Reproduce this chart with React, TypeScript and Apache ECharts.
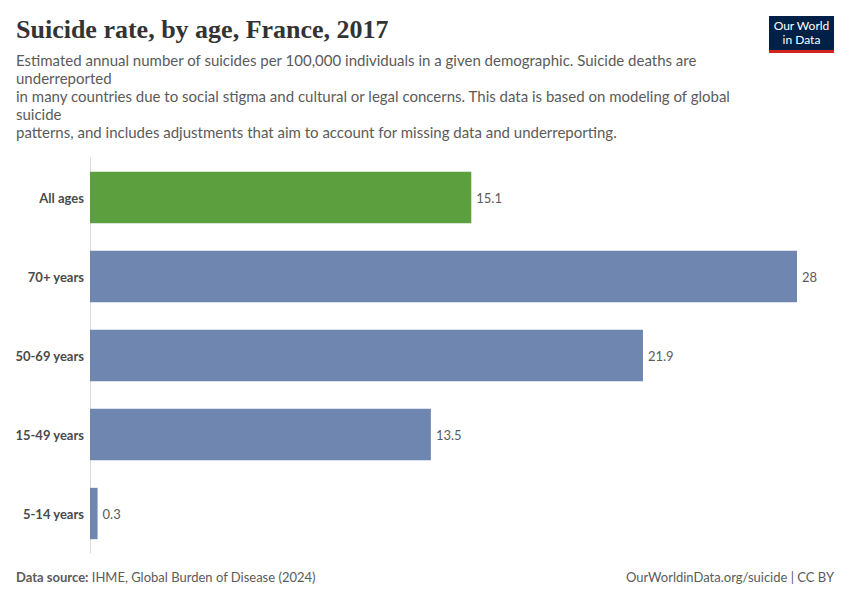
import React, { useEffect, useRef } from "react";
import * as echarts from "echarts";

const categories = ["All ages", "70+ years", "50-69 years", "15-49 years", "5-14 years"];
const values = [15.1, 28, 21.9, 13.5, 0.3];
const barColors = ["#5b9f3e", "#6f87b0", "#6f87b0", "#6f87b0", "#6f87b0"];
const subtitleLines = [
  "Estimated annual number of suicides per 100,000 individuals in a given demographic. Suicide deaths are",
  "underreported",
  "in many countries due to social stigma and cultural or legal concerns. This data is based on modeling of global",
  "suicide",
  "patterns, and includes adjustments that aim to account for missing data and underreporting.",
];

export default function App() {
  const ref = useRef<HTMLDivElement>(null);
  useEffect(() => {
    if (!ref.current) return;
    const chart = echarts.init(ref.current, null, { renderer: "svg" });
    const font = "Lato, 'Noto Sans', sans-serif";
    const subtitleGraphics = subtitleLines.map((t, i) => ({
      type: "text",
      left: 16,
      top: 52 + i * 18.2,
      style: { text: t, fill: "#5b5b5b", font: `15px ${font}` },
    }));
    chart.setOption({
      animation: false,
      backgroundColor: "#ffffff",
      grid: { left: 90, top: 158, width: 707, height: 395, containLabel: false },
      xAxis: {
        type: "value",
        min: 0,
        max: 28,
        show: false,
      },
      yAxis: {
        type: "category",
        data: categories,
        inverse: true,
        axisLine: { show: true, lineStyle: { color: "#dadada", width: 1 } },
        axisTick: { show: false },
        axisLabel: { color: "#4a4a4a", fontSize: 13, fontFamily: font, fontWeight: "bold", margin: 6 },
      },
      series: [
        {
          type: "bar",
          data: values.map((v, i) => ({ value: v, itemStyle: { color: barColors[i] } })),
          barCategoryGap: "35%",
          label: {
            show: true,
            position: "right",
            distance: 5,
            color: "#5b5b5b",
            fontSize: 13,
            fontFamily: font,
            formatter: (p: any) => String(p.value),
          },
        },
      ],
      graphic: [
        {
          type: "text",
          left: 16,
          top: 16,
          style: {
            text: "Suicide rate, by age, France, 2017",
            fill: "#333333",
            font: "bold 26px 'Liberation Serif', 'DejaVu Serif', serif",
          },
        },
        ...subtitleGraphics,
        {
          type: "group",
          left: 769,
          top: 16,
          children: [
            { type: "rect", shape: { x: 0, y: 0, width: 65, height: 34 }, style: { fill: "#002147" } },
            { type: "rect", shape: { x: 0, y: 34, width: 65, height: 3 }, style: { fill: "#ce261e" } },
            {
              type: "text",
              x: 32.5,
              y: 3.5,
              style: { text: "Our World", fill: "#ffffff", font: `12px ${font}`, textAlign: "center" },
            },
            {
              type: "text",
              x: 32.5,
              y: 17.5,
              style: { text: "in Data", fill: "#ffffff", font: `12px ${font}`, textAlign: "center" },
            },
          ],
        },
        {
          type: "text",
          left: 16,
          top: 570,
          style: {
            text: "{b|Data source:} IHME, Global Burden of Disease (2024)",
            rich: {
              b: { fontWeight: "bold", fill: "#5b5b5b", fontSize: 13, fontFamily: font },
            },
            fill: "#5b5b5b",
            font: `13px ${font}`,
          },
        },
        {
          type: "text",
          right: 16,
          top: 570,
          style: {
            text: "OurWorldinData.org/suicide | CC BY",
            fill: "#5b5b5b",
            font: `13px ${font}`,
          },
        },
      ],
    });
    return () => chart.dispose();
  }, []);
  return <div ref={ref} style={{ width: 850, height: 600, position: "absolute", left: 0, top: 0 }} />;
}
